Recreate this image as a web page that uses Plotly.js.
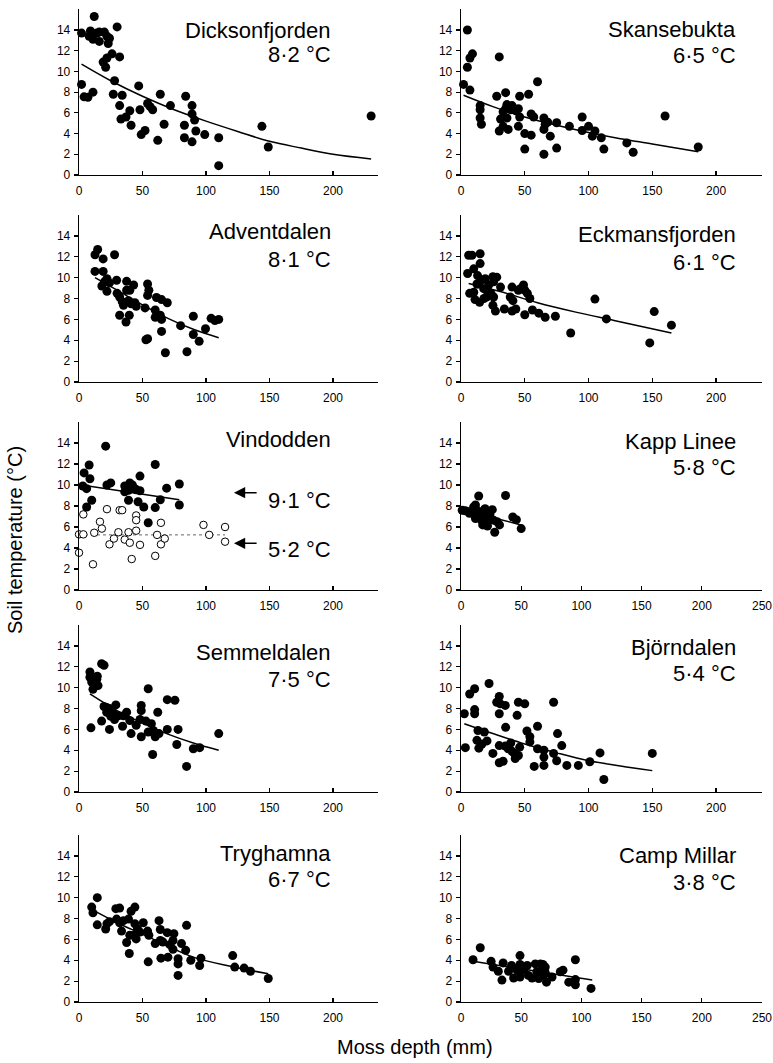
<!DOCTYPE html>
<html><head><meta charset="utf-8">
<script src="https://cdn.plot.ly/plotly-3.0.1.min.js"></script>
<style>html,body{margin:0;padding:0;background:#fff;}</style>
</head><body>
<div id="chart" style="width:773px;height:1063px;"></div>
<script>
// ---- site labels ----
const siteNames = ["Dicksonfjorden","Skansebukta","Adventdalen","Eckmansfjorden","Vindodden","Kapp Linee","Semmeldalen","Björndalen","Tryghamna","Camp Millar"];
const siteTemps = ["8·2 °C","6·5 °C","8·1 °C","6·1 °C","","5·8 °C","7·5 °C","5·4 °C","6·7 °C","3·8 °C"];
const vindTempWarm = "9·1 °C";
const vindTempCold = "5·2 °C";
const yTicks = [0,2,4,6,8,10,12,14];
const xTicksShort = [0,50,100,150,200];
const xTicksLong = [0,50,100,150,200,250];

// ---- data (moss depth mm, soil temperature °C) ----
const dicksonX = [2,2,4,7,11,9,8,12,11,14,16,16,20,23,24,22,19,22,21,26,30,32,28,27,34,32,33,37,40,41,47,48,49,52,54,56,58,64,62,67,72,84,83,83,89,89,91,92,89,99,110,110,144,149,230];
const dicksonY = [13.7,8.75,7.55,7.5,8.0,13.9,13.4,15.3,13.1,13.7,13.8,12.9,13.8,12.7,13.2,13.4,10.9,11.3,10.4,11.7,14.3,11.4,9.1,7.8,7.7,6.7,5.4,5.6,6.2,4.8,8.6,6.3,3.9,4.3,6.9,6.6,6.3,7.8,3.35,4.9,6.7,7.6,4.8,3.6,6.7,5.9,5.3,4.25,3.2,3.9,3.6,0.9,4.7,2.7,5.7];
const dicksonFitX = [2,25,50,75,100,125,150,175,200,230];
const dicksonFitY = [10.7,9.1,7.6,6.3,5.2,4.2,3.25,2.6,2.0,1.55];

const skanseX = [2,5,5,7,9,7,15,15,15,16,28,30,30,31,33,35,35,36,33,36,37,39,40,43,45,46,46,45,50,50,53,55,55,57,60,65,65,65,66,68,70,75,75,85,95,95,100,103,105,110,112,130,135,160,186];
const skanseY = [8.75,14.0,10.4,11.3,11.7,8.2,6.7,6.3,5.5,4.9,7.6,11.4,4.25,5.4,6.1,6.4,7.95,6.8,4.7,5.5,4.4,6.3,6.7,6.2,6.4,7.6,5.6,4.7,4.0,2.5,7.8,5.9,3.85,5.6,9.0,5.5,2.0,4.4,4.9,5.1,3.75,5.05,2.6,4.7,5.6,4.3,4.7,3.75,4.25,3.6,2.5,3.1,2.2,5.7,2.7];
const skanseFitX = [2,25,50,75,100,125,150,186];
const skanseFitY = [7.7,6.6,5.6,4.8,4.1,3.5,3.0,2.25];

const adventX = [12.6,14.7,12.6,19,19,28,18,20,22,22,24,29.6,30,32,32,34,35,37,37.5,37.5,39,39.6,40,41,43,44,45,52,52.7,54,54,55,54,60,60,61,65,64,65,65,68,69.5,80,85,90,90,94.6,99.6,104,107,110];
const adventY = [12.2,12.7,10.6,11.8,10.6,12.2,9.2,9.6,9.9,8.7,9.5,9.75,8.5,8.15,6.4,7.7,7.35,5.75,9.65,8.8,7.8,6.4,8.8,7.5,9.3,7.6,7.25,7.1,4.05,4.15,9.4,8.8,8.3,6.9,6.2,8.1,7.9,6.4,6.0,4.85,2.8,7.6,5.4,2.9,6.3,4.55,3.9,5.1,6.1,5.9,6.0];
const adventFitX = [12.6,30,50,70,90,110];
const adventFitY = [10.0,8.8,7.4,6.1,5.05,4.25];

const eckmanX = [6,8.6,15,15,5.2,10,13,12.5,6.8,10,11,14.6,13.8,16,17.8,19,20,20.4,18,21.7,23.5,25,25.6,25.6,25,27,28,31,34,38.6,40,40.7,40,43,45,46.5,49,50,52,54,50,56,61,66,74,86,105,114,148,151.5,165];
const eckmanY = [12.15,12.15,12.3,11.35,10.4,10.85,10.2,9.4,8.5,8.6,7.9,7.65,9.4,9.75,8.95,9.9,8.15,8.8,8.0,9.3,8.5,10.1,9.6,8.15,7.35,6.8,10.05,9.1,7.0,8.15,9.1,7.8,6.8,7.0,8.8,8.95,9.3,8.8,8.5,8.0,6.45,6.9,6.6,6.2,6.3,4.7,7.95,6.05,3.75,6.75,5.45];
const eckmanFitX = [6,30,60,90,120,165];
const eckmanFitY = [9.45,8.7,7.6,6.7,5.9,4.7];

const vindWarmX = [21,4,8,8.6,3,6,10,6,22,25,36,36,39,40,42,44,39,45,48,48,46.5,51,60,60,54.5,64,69,79,79];
const vindWarmY = [13.7,11.15,11.9,10.6,9.9,9.65,8.55,7.9,10.0,10.2,9.9,9.35,9.5,10.2,10.0,9.65,8.55,9.55,9.45,10.85,8.4,7.9,11.95,7.85,6.4,8.6,9.7,10.1,8.1];
const vindWarmFitX = [2,79];
const vindWarmFitY = [10.0,8.6];
const vindColdX = [0,0,3.4,3.4,11,12,16.5,18,22,24,27.5,31,32,34,36,39,40,41.5,45,45,45,48,60,61.5,64.5,64.5,67.5,98,102.5,115,115];
const vindColdY = [5.3,3.55,7.2,5.3,2.45,5.45,6.5,5.85,7.7,4.35,4.9,5.5,7.6,7.6,4.8,5.5,4.5,2.95,7.1,6.65,5.65,4.3,3.25,5.25,6.4,4.35,4.9,6.2,5.25,6.0,4.6];
const vindColdFitX = [0,115];
const vindColdFitY = [5.25,5.25];

const kappX = [1,3.6,6.4,9,10.5,12,14.7,12,14.7,16,19,20,18,21.6,22,24,26,27,28,30,32,37,43,46,50,13,17,7,11,21,24];
const kappY = [7.6,7.55,7.45,7.45,7.9,8.1,8.95,6.8,7.3,7.0,7.6,7.75,6.2,7.1,6.1,6.95,7.65,6.65,5.5,6.5,6.2,9.0,6.95,6.7,5.85,7.6,6.65,7.3,7.2,6.7,7.2];
const kappFitX = [0,50];
const kappFitY = [7.65,6.2];

const semmelX = [8.6,8.6,10,11,12.6,14.4,15,14,9.4,17.8,19.7,17.8,19.7,21.8,21.8,24,24,25,27,28,29,31,34.3,35,37.5,40,41,45,48,49,49,49,52.7,54.5,54.5,57,58,58.5,60,62,63,69.5,69.5,75.5,77,78,84.7,90,95,110];
const semmelY = [11.5,11.0,10.55,9.85,10.7,11.1,10.2,10.8,6.15,12.3,12.15,6.8,8.2,8.1,7.65,8.0,6.0,7.25,7.5,6.95,8.35,7.3,6.3,7.3,7.65,6.85,5.6,6.4,6.95,8.3,7.8,5.3,6.8,9.9,5.75,6.55,3.6,5.9,5.3,7.65,5.6,8.85,6.0,8.8,4.55,6.0,2.45,4.15,4.25,5.6];
const semmelFitX = [8.6,30,50,70,90,110];
const semmelFitY = [9.4,7.8,6.6,5.55,4.7,4.0];

const bjornX = [2.6,3.4,6.8,10.7,10.7,10.7,12.5,13.3,14,16.4,18.3,20.4,22,25,28,30,30,30.8,30,30,33,34.7,35,34.7,37,39,40,41.8,42.5,44,45,45,46,50,51.7,54,54,57.4,60,60,65,65,65,72.6,72.6,75.7,75,79,83,92,101,109,112,150];
const bjornY = [7.5,4.25,9.4,9.9,7.9,7.5,4.95,5.9,4.2,4.6,5.75,4.9,10.4,3.7,8.6,9.15,7.5,8.45,4.45,2.8,2.95,8.3,6.2,4.4,4.15,4.7,3.9,3.7,3.2,7.35,8.6,3.5,4.3,8.45,5.85,5.3,4.8,2.45,6.3,4.15,4.0,3.35,2.55,8.6,3.7,5.6,3.0,4.45,2.55,2.55,2.9,3.75,1.2,3.7];
const bjornFitX = [2.6,25,50,75,100,125,150];
const bjornFitY = [6.55,5.6,4.6,3.75,3.0,2.5,2.05];

const trygX = [10,11,14.4,14.4,21,22,24,29,32,29.6,32,33.5,35,37.5,39,40,39.6,41,44,44,44,45,46,48,50.6,54,54.5,55,60,63,64,64,64.5,66,69.5,70,71.5,74,74.7,74,78,78,78,80.7,84.7,84,88,95,96,121,122.6,130,135,149];
const trygY = [9.1,8.55,10.0,7.4,7.0,7.5,7.7,8.95,9.0,7.95,7.6,6.8,7.8,5.7,7.95,6.4,4.65,8.7,9.1,7.5,6.45,6.05,7.0,6.7,7.6,6.8,3.85,6.4,5.6,7.8,5.9,6.95,4.2,5.75,6.65,4.3,5.5,5.9,6.55,5.05,4.15,2.55,3.65,5.6,7.35,4.95,4.0,3.5,4.2,4.45,3.35,3.25,2.95,2.25];
const trygFitX = [11,30,50,64,90,120,149];
const trygFitY = [8.8,7.6,6.5,5.7,4.3,3.4,2.7];

const campX = [10,16,25,26.6,31,34,35,39.5,42,43.7,46.5,49,49,49,52,55,56,59,61.7,63,64.5,66,67,68,68.6,70,71,70,75.6,82.5,84.7,89.5,95,95,95,108];
const campY = [4.05,5.2,3.9,3.35,2.95,2.1,3.75,2.95,3.5,2.3,3.05,4.45,3.6,2.4,3.05,3.5,2.55,2.3,3.65,2.9,2.25,3.65,3.05,3.6,2.55,3.35,1.9,2.8,2.4,2.9,3.05,1.9,4.05,2.15,1.65,1.3];
const campFitX = [10,109];
const campFitY = [3.9,2.1];

// ---- assembly ----
const panelPoints = [[dicksonX,dicksonY],[skanseX,skanseY],[adventX,adventY],[eckmanX,eckmanY],[vindWarmX,vindWarmY],[kappX,kappY],[semmelX,semmelY],[bjornX,bjornY],[trygX,trygY],[campX,campY]];
const panelFits = [[dicksonFitX,dicksonFitY],[skanseFitX,skanseFitY],[adventFitX,adventFitY],[eckmanFitX,eckmanFitY],[vindWarmFitX,vindWarmFitY],[kappFitX,kappFitY],[semmelFitX,semmelFitY],[bjornFitX,bjornFitY],[trygFitX,trygFitY],[campFitX,campFitY]];

const W = 773, H = 1063;
const colX = [[79,378],[461,762]];
const rowY = [[175,9.3],[382,215.1],[590,422],[792,625.1],[1002,835.1]]; // pixel y of value 0 and value 16
const colRange = [235.4, 236];
const nameY = [14.0,14.06,14.4,14.16,14.3,14.1,13.4,13.9,14.26,14.0];
const tempY = [11.6,11.5,11.76,11.48,0,11.7,10.8,11.4,11.7,11.5];
const nameXd = [0.849,0.92];

const tickFont = {family:"Liberation Sans Narrow, Liberation Sans, Arial, sans-serif", size:12, color:"#000"};
const labelFont = {family:"Liberation Sans, Arial, Helvetica, sans-serif", size:22, color:"#000"};

const traces = [];
const layout = {
  width: W, height: H,
  margin: {l:0,r:0,t:0,b:0},
  paper_bgcolor:"#fff", plot_bgcolor:"rgba(0,0,0,0)",
  showlegend:false,
  annotations: []
};

for (let i = 0; i < 10; i++) {
  const col = i % 2, row = Math.floor(i / 2);
  const n = i + 1;
  const xa = n === 1 ? "x" : "x" + n;
  const ya = n === 1 ? "y" : "y" + n;
  const longX = (i === 5 || i === 9);
  layout["xaxis" + (n === 1 ? "" : n)] = {
    domain: [colX[col][0] / W, colX[col][1] / W],
    range: [0, longX ? 250 : colRange[col]],
    tickvals: longX ? xTicksLong : xTicksShort,
    anchor: ya,
    showline: true, linecolor: "#000", linewidth: 1.3,
    ticks: "inside", ticklen: 4, tickwidth: 1.2, tickcolor: "#000",
    showgrid: false, zeroline: false, tickfont: tickFont,
    ticklabelstandoff: 4, fixedrange: true
  };
  layout["yaxis" + (n === 1 ? "" : n)] = {
    domain: [(H - rowY[row][0]) / H, (H - rowY[row][1]) / H],
    range: [0, 16],
    tickvals: yTicks,
    anchor: xa,
    showline: true, linecolor: "#000", linewidth: 1.3,
    ticks: "outside", ticklen: 4, tickwidth: 1.2, tickcolor: "#000",
    showgrid: false, zeroline: false, tickfont: tickFont,
    ticklabelstandoff: 1, fixedrange: true
  };
  traces.push({
    x: panelFits[i][0], y: panelFits[i][1], xaxis: xa, yaxis: ya,
    mode: "lines", line: {color: "#000", width: 1.5, shape: "spline", smoothing: 1},
    hoverinfo: "skip", cliponaxis: false
  });
  traces.push({
    x: panelPoints[i][0], y: panelPoints[i][1], xaxis: xa, yaxis: ya,
    mode: "markers", marker: {color: "#000", size: 9, line: {width: 0}},
    cliponaxis: false
  });
  if (i === 4) {
    traces.push({
      x: vindColdFitX, y: vindColdFitY, xaxis: xa, yaxis: ya,
      mode: "lines", line: {color: "#666", width: 1, dash: "dot"},
      hoverinfo: "skip", cliponaxis: false
    });
    traces.push({
      x: vindColdX, y: vindColdY, xaxis: xa, yaxis: ya,
      mode: "markers", marker: {color: "#fff", size: 7.5, line: {color: "#000", width: 1}},
      cliponaxis: false
    });
  }
  layout.annotations.push({
    text: siteNames[i], xref: xa + " domain", yref: ya,
    x: nameXd[col], y: nameY[i], xanchor: "right", yanchor: "middle",
    showarrow: false, font: labelFont
  });
  if (siteTemps[i]) {
    layout.annotations.push({
      text: siteTemps[i], xref: xa + " domain", yref: ya,
      x: nameXd[col], y: tempY[i], xanchor: "right", yanchor: "middle",
      showarrow: false, font: labelFont
    });
  }
  if (i === 4) {
    layout.annotations.push({text: vindTempWarm, xref: xa + " domain", yref: ya, x: nameXd[col], y: 8.57, xanchor: "right", yanchor: "middle", showarrow: false, font: labelFont});
    layout.annotations.push({text: vindTempCold, xref: xa + " domain", yref: ya, x: nameXd[col], y: 3.87, xanchor: "right", yanchor: "middle", showarrow: false, font: labelFont});
    [9.27, 4.45].forEach(function (yy) {
      layout.annotations.push({text: "", xref: xa, yref: ya, x: 122, y: yy, axref: xa, ayref: ya, ax: 141, ay: yy,
        showarrow: true, arrowhead: 2, arrowsize: 1.5, arrowwidth: 1.5, arrowcolor: "#000", standoff: 0, startstandoff: 0});
    });
  }
}

layout.annotations.push({
  text: "Soil temperature (°C)", xref: "paper", yref: "paper",
  x: 15 / W, y: (H - 540) / H, xanchor: "center", yanchor: "middle",
  textangle: -90, showarrow: false, font: {family: labelFont.family, size: 20, color: "#000"}
});
layout.annotations.push({
  text: "Moss depth (mm)", xref: "paper", yref: "paper",
  x: 415 / W, y: (H - 1047) / H, xanchor: "center", yanchor: "middle",
  showarrow: false, font: {family: labelFont.family, size: 20, color: "#000"}
});

Plotly.newPlot("chart", traces, layout, {staticPlot: true, displayModeBar: false});
</script>
</body></html>
